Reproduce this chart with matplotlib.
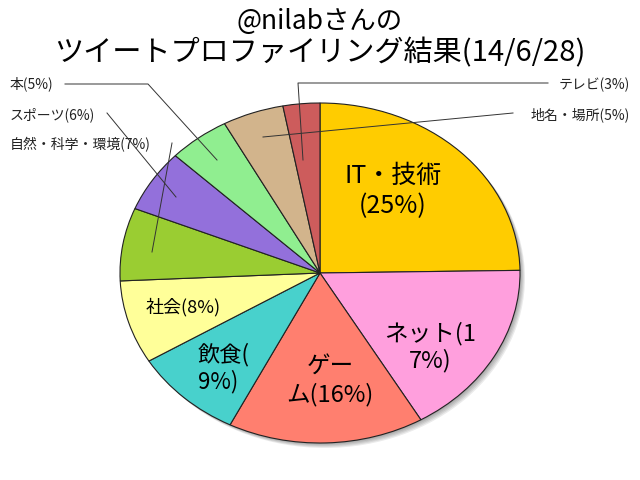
import matplotlib.pyplot as plt
from matplotlib.patches import Ellipse

plt.rcParams['font.family'] = ['Noto Sans CJK JP', 'DejaVu Sans']

# data
categories = ['IT・技術', 'ネット', 'ゲーム', '飲食', '社会',
              '自然・科学・環境', 'スポーツ', '本', '地名・場所', 'テレビ']
shares = [25, 17, 16, 9, 8, 7, 6, 5, 5, 3]
colors = ['#FFCC00', '#FF9FDD', '#FF7F6F', '#48D1CC', '#FFFF99',
          '#9ACD32', '#9370DB', '#90EE90', '#D2B48C', '#CD5C5C']

# labels drawn inside the wedges (pixel positions of text)
inner_labels = {
    'IT・技術': ('IT・技術\n(25%)', 393, 191, 18, 'center'),
    'ネット': ('ネット(1\n7%)', 430, 347, 17, 'center'),
    'ゲーム': ('ゲー\nム(16%)', 330, 381, 17, 'center'),
    '飲食': ('飲食(\n9%)', 198, 368, 16, 'left'),
    '社会': ('社会(8%)', 183, 307, 13, 'center'),
}

# outside labels with leader lines: text, text x, text y, ha, line path (pixels)
outer_labels = {
    'テレビ': ('テレビ(3%)', 630, 85, 'right', [(548, 83), (298, 83), (303, 160)]),
    '地名・場所': ('地名・場所(5%)', 630, 115, 'right', [(513, 113), (263, 137)]),
    '本': ('本(5%)', 10, 84, 'left', [(65, 84), (148, 84), (217, 160)]),
    'スポーツ': ('スポーツ(6%)', 10, 115, 'left', [(107, 113), (176, 197)]),
    '自然・科学・環境': ('自然・科学・環境(7%)', 10, 145, 'left', [(172, 143), (152, 252)]),
}

W, H = 640, 480
CX, CY, RX, RY = 320, 273, 200, 170


def px(x, y):
    return (x - CX) / RX, (CY - y) / RY


fig = plt.figure(figsize=(6.4, 4.8), dpi=100)
fig.patch.set_facecolor('white')
ax = fig.add_axes([0, 0, 1, 1])

# soft shadow
for k in range(1, 6):
    ax.add_patch(Ellipse((k * 1.0 / RX, -k * 1.0 / RY), 2, 2,
                         facecolor='#000000', alpha=0.08, lw=0, zorder=0))

wedges, _ = ax.pie(shares, colors=colors, startangle=90, counterclock=False,
                   wedgeprops=dict(edgecolor='#222222', linewidth=0.8),
                   radius=1, center=(0, 0))
for w in wedges:
    w.set_zorder(1)

ax.set_aspect('auto')
ax.set_xlim(-CX / RX, (W - CX) / RX)
ax.set_ylim((CY - H) / RY, CY / RY)
ax.axis('off')

for name, (txt, x, y, fs, ha) in inner_labels.items():
    dx, dy = px(x, y)
    if ha == 'left':
        ax.text(dx, dy, txt, fontsize=fs, ha='left', va='center',
                multialignment='left', color='black', zorder=3, linespacing=1.2)
    else:
        ax.text(dx, dy, txt, fontsize=fs, ha='center', va='center',
                color='black', zorder=3, linespacing=1.2)

for name, (txt, x, y, ha, path) in outer_labels.items():
    tx, ty = px(x, y)
    ax.text(tx, ty, txt, fontsize=10, ha=ha, va='center', color='#222222', zorder=3)
    xs, ys = zip(*[px(a, b) for a, b in path])
    ax.plot(xs, ys, color='#333333', lw=0.7, zorder=4)

fig.text(0.5, 1 - 21 / H, '@nilabさんの', fontsize=19, ha='center', va='center')
fig.text(0.5, 1 - 53 / H, 'ツイートプロファイリング結果(14/6/28)', fontsize=21,
         ha='center', va='center')

fig.savefig('out.png', dpi=100)
